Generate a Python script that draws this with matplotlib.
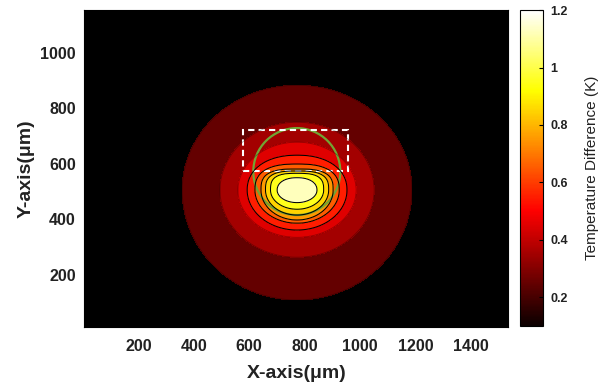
import numpy as np
import matplotlib
matplotlib.use("Agg")
import matplotlib.pyplot as plt
from matplotlib.patches import Circle, Rectangle
from matplotlib.colors import Normalize
from matplotlib.cm import ScalarMappable

plt.rcParams["font.family"] = ["Liberation Sans", "DejaVu Sans"]

# contour levels (K) and the size of each level's contour (um)
levels = [0.2, 0.3, 0.4, 0.5, 0.6, 0.7, 0.8, 0.9, 1.0]
semi_x = [415, 278, 213, 180, 152, 130, 114, 96, 72]
semi_up = [379, 245, 173, 126, 94, 76, 69, 61, 45]
semi_down = [397, 242, 170, 144, 119, 108, 90, 69, 45]
top_shape = [2.0, 2.0, 2.0, 2.2, 2.6, 3.0, 3.0, 3.0, 2.2]   # flatter tops of inner contours
hot_center = (773, 505)
peak_value = 1.2
background_value = 0.1

# overlays
spot_center = (772, 572)
spot_radius = 157
box_xy = (577, 575)
box_w, box_h = 378, 148

xticks = [200, 400, 600, 800, 1000, 1200, 1400]
yticks = [200, 400, 600, 800, 1000]
cbar_ticks = [0.2, 0.4, 0.6, 0.8, 1.0, 1.2]
cbar_labels = ["0.2", "0.4", "0.6", "0.8", "1", "1.2"]
xlim = (5, 1535)
ylim = (12, 1155)
clim = (0.1, 1.2)

# build the temperature field from the level contours
x = np.linspace(0, 1540, 620)
y = np.linspace(0, 1160, 470)
X, Y = np.meshgrid(x, y)
dx = X - hot_center[0]
dy = Y - hot_center[1]
r = np.hypot(dx, dy) + 1e-9
c = np.abs(dx) / r
s = np.abs(dy) / r
upper = dy >= 0

R = []
for a, bu, bd, p in zip(semi_x, semi_up, semi_down, top_shape):
    b = np.where(upper, bu, bd)
    pp = np.where(upper, p, 2.0)
    R.append(1.0 / ((c / a) ** pp + (s / b) ** pp) ** (1.0 / pp))

T = np.full_like(X, background_value)
T = np.where(r >= R[0], levels[0] - (levels[0] - background_value) * np.clip((r - R[0]) / 80, 0, 1), T)
for i in range(len(levels) - 1):
    band = (r < R[i]) & (r >= R[i + 1])
    frac = (R[i] - r) / (R[i] - R[i + 1])
    T = np.where(band, levels[i] + (levels[i + 1] - levels[i]) * frac, T)
core = r < R[-1]
T = np.where(core, levels[-1] + (peak_value - levels[-1]) * (1 - r / R[-1]), T)

fig = plt.figure(figsize=(6.0, 3.89), dpi=100)
ax = fig.add_axes([0.1405, 0.1602, 0.7065, 0.8138])
cax = fig.add_axes([0.8667, 0.162, 0.0389, 0.812])
ax.set_facecolor("black")

norm = Normalize(vmin=clim[0], vmax=clim[1])
ax.contourf(X, Y, T, levels=levels + [1.25], cmap="hot", norm=norm)
ax.contour(X, Y, T, levels=levels[:3], colors="black", linewidths=0.7, alpha=0.3)
ax.contour(X, Y, T, levels=levels[3:], colors="black", linewidths=0.75)

ax.add_patch(Circle(spot_center, spot_radius, fill=False, edgecolor="#72a534", linewidth=1.6))
ax.add_patch(Rectangle(box_xy, box_w, box_h, fill=False, edgecolor="white",
                       linewidth=1.5, linestyle=(0, (3, 2))))

ax.set_xlim(*xlim)
ax.set_ylim(*ylim)
ax.set_xticks(xticks)
ax.set_yticks(yticks)
ax.tick_params(direction="in", length=3, color="black", labelsize=11.5)
ax.tick_params(axis="x", pad=9)
ax.tick_params(axis="y", pad=6)
for lab in ax.get_xticklabels() + ax.get_yticklabels():
    lab.set_fontweight("bold")
    lab.set_color("#222222")
ax.set_xlabel("X-axis(μm)", fontsize=14, fontweight="bold", color="#222222", labelpad=8)
ax.set_ylabel("Y-axis(μm)", fontsize=14, fontweight="bold", color="#222222", labelpad=4)

cb = fig.colorbar(ScalarMappable(norm=norm, cmap="hot"), cax=cax)
cb.set_ticks(cbar_ticks)
cb.set_ticklabels(cbar_labels)
cb.outline.set_linewidth(0.8)
cax.tick_params(direction="in", length=3, labelsize=9, pad=5)
for lab in cax.get_yticklabels():
    lab.set_fontweight("bold")
    lab.set_color("#222222")
cb.set_label("Temperature Difference (K)", fontsize=11, color="#222222", labelpad=12)

fig.savefig("out.png", dpi=100)
